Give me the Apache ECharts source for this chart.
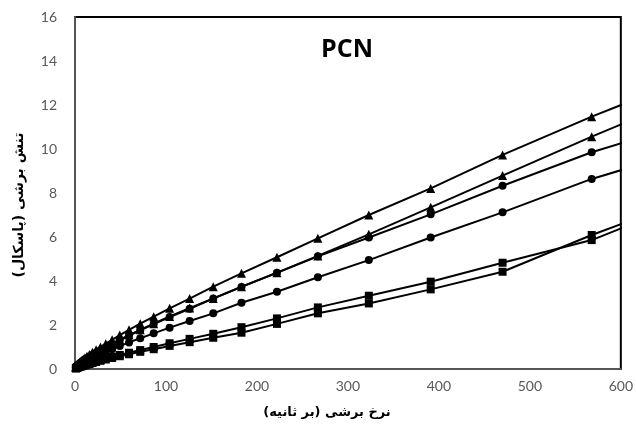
<!DOCTYPE html>
<html>
<head>
<meta charset="utf-8">
<script src="https://cdn.jsdelivr.net/npm/echarts@6/dist/echarts.min.js"></script>
<style>
  html, body { margin: 0; padding: 0; background: #fff; }
  #chart { width: 636px; height: 443px; }
</style>
</head>
<body>
<div id="chart"></div>
<script>
// shear rate (1/s), log spaced
const shearRate = [1.0, 1.2, 1.4, 1.7, 2.0, 2.4, 2.9, 3.5, 4.3, 5.1, 6.2, 7.5, 9.1, 10.9, 13.2, 15.9, 19.2, 23.2, 28, 33.8, 40.8, 49.2, 59.4, 71.7, 86.5, 104, 126, 152, 183, 222, 267, 323, 391, 470, 568, 686]

// shear stress (Pa) per curve
const triA = [0.10, 0.11, 0.12, 0.14, 0.16, 0.18, 0.20, 0.23, 0.26, 0.30, 0.34, 0.39, 0.45, 0.51, 0.58, 0.66, 0.76, 0.87, 1.00, 1.15, 1.33, 1.54, 1.78, 2.06, 2.38, 2.76, 3.20, 3.74, 4.35, 5.08, 5.94, 7.00, 8.21, 9.73, 11.47, 13.40]
const triB = [0.08, 0.09, 0.10, 0.12, 0.13, 0.15, 0.17, 0.19, 0.22, 0.25, 0.29, 0.33, 0.38, 0.43, 0.49, 0.56, 0.65, 0.75, 0.86, 0.99, 1.15, 1.33, 1.54, 1.78, 2.06, 2.39, 2.77, 3.21, 3.74, 4.38, 5.14, 6.12, 7.35, 8.79, 10.56, 12.60]
const cirC = [0.08, 0.09, 0.10, 0.11, 0.13, 0.15, 0.17, 0.19, 0.22, 0.25, 0.28, 0.33, 0.37, 0.42, 0.48, 0.55, 0.64, 0.74, 0.85, 0.98, 1.13, 1.31, 1.52, 1.76, 2.04, 2.36, 2.74, 3.20, 3.73, 4.37, 5.12, 5.98, 7.03, 8.33, 9.85, 11.35]
const cirD = [0.05, 0.06, 0.07, 0.08, 0.09, 0.10, 0.12, 0.14, 0.16, 0.18, 0.21, 0.24, 0.28, 0.32, 0.37, 0.43, 0.50, 0.58, 0.67, 0.78, 0.90, 1.04, 1.21, 1.40, 1.62, 1.88, 2.18, 2.53, 3.01, 3.51, 4.17, 4.95, 5.98, 7.12, 8.64, 10.10]
const sqE = [0.04, 0.04, 0.05, 0.05, 0.06, 0.07, 0.08, 0.09, 0.10, 0.11, 0.13, 0.15, 0.17, 0.20, 0.23, 0.26, 0.30, 0.35, 0.41, 0.47, 0.55, 0.64, 0.74, 0.86, 1.00, 1.17, 1.37, 1.60, 1.90, 2.30, 2.80, 3.33, 3.97, 4.83, 5.86, 7.80]
const sqF = [0.03, 0.04, 0.04, 0.05, 0.05, 0.06, 0.07, 0.08, 0.09, 0.10, 0.11, 0.13, 0.15, 0.17, 0.20, 0.23, 0.27, 0.32, 0.37, 0.43, 0.50, 0.58, 0.67, 0.78, 0.90, 1.05, 1.22, 1.42, 1.65, 2.05, 2.53, 2.98, 3.62, 4.42, 6.09, 7.90]

const xTicks = [0, 100, 200, 300, 400, 500, 600]
const yTicks = [0, 2, 4, 6, 8, 10, 12, 14, 16]

const chart = echarts.init(document.getElementById('chart'))

const mkSeries = (ys, symbol, size) => ({
  type: 'line',
  data: shearRate.map((x, i) => [x, ys[i]]),
  symbol: symbol,
  symbolSize: size,
  showAllSymbol: true,
  clip: true,
  lineStyle: { color: '#000', width: 2 },
  itemStyle: { color: '#000' },
  silent: true
})

const labelFont = { color: '#595959', fontSize: 14, fontFamily: 'Lato, "Open Sans", sans-serif' }

chart.setOption({
  animation: false,
  backgroundColor: '#fff',
  grid: {
    left: 75, right: 15, top: 17, bottom: 74,
    show: true, borderColor: '#000', borderWidth: 2
  },
  xAxis: {
    type: 'value',
    min: xTicks[0], max: xTicks[xTicks.length - 1], interval: 100,
    axisLine: { lineStyle: { color: '#555', width: 2 } },
    axisTick: { show: false },
    splitLine: { show: false },
    axisLabel: Object.assign({ margin: 10 }, labelFont)
  },
  yAxis: {
    type: 'value',
    min: yTicks[0], max: yTicks[yTicks.length - 1], interval: 2,
    axisLine: { show: true, lineStyle: { color: '#555', width: 2 } },
    axisTick: { show: false },
    splitLine: { show: false },
    axisLabel: Object.assign({ margin: 18 }, labelFont)
  },
  graphic: [
    {
      type: 'text', left: 321, top: 37,
      style: { text: 'PCN', font: 'bold 25px "Open Sans", sans-serif', fill: '#000' }
    },
    {
      type: 'text', x: 327, y: 413,
      style: {
        text: 'نرخ برشی (بر ثانیه)', font: 'bold 13px "DejaVu Sans", sans-serif',
        fill: '#000', align: 'center', verticalAlign: 'middle'
      }
    },
    {
      type: 'text', x: 19, y: 205, rotation: Math.PI / 2,
      style: {
        text: 'تنش برشی (پاسکال)', font: 'bold 14px "DejaVu Sans", sans-serif',
        fill: '#000', align: 'center', verticalAlign: 'middle'
      }
    }
  ],
  series: [
    mkSeries(triA, 'triangle', 9),
    mkSeries(triB, 'triangle', 9),
    mkSeries(cirC, 'circle', 8),
    mkSeries(cirD, 'circle', 8),
    mkSeries(sqE, 'rect', 8),
    mkSeries(sqF, 'rect', 8)
  ]
})
</script>
</body>
</html>
